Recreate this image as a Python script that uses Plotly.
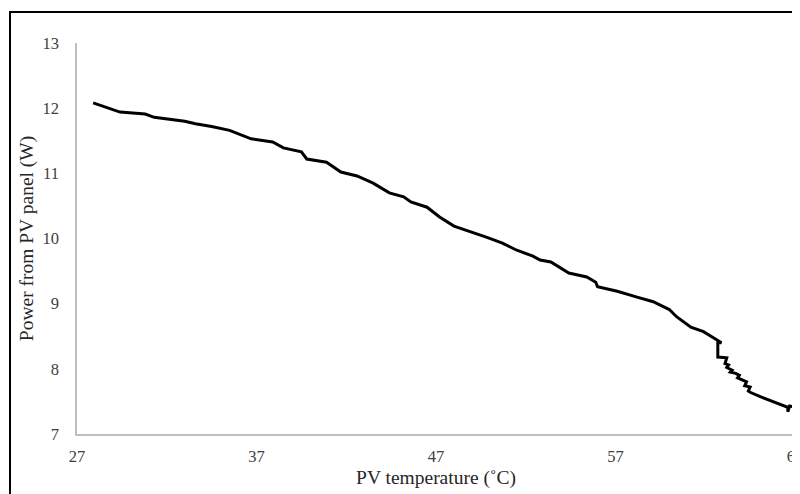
import plotly.graph_objects as go

temperature = [27.9, 28.8, 29.4, 30.8, 31.3, 33.0, 33.6, 34.5, 35.5, 36.7, 37.9, 38.5, 39.5, 39.8,
               40.9, 41.7, 42.6, 43.5, 44.4, 45.2, 45.6, 46.5, 47.2, 48.0, 48.9, 49.8, 50.7,
               51.5, 52.4, 52.8, 53.4, 54.4, 55.4, 55.9, 56.0, 57.1, 58.2, 59.1, 60.0, 60.4,
               61.2, 61.9, 62.5, 62.9, 62.7, 62.7, 63.2, 63.1, 63.3, 63.2, 63.5, 63.4, 63.7,
               63.9, 63.8, 64.1, 64.3, 64.2, 64.5, 64.4, 64.5, 65.1, 65.8, 66.6, 66.6, 66.7, 66.9]
power = [12.08, 12.00, 11.94, 11.91, 11.86, 11.80, 11.76, 11.72, 11.66, 11.53, 11.48, 11.39, 11.33, 11.22,
         11.17, 11.02, 10.96, 10.85, 10.70, 10.64, 10.56, 10.48, 10.33, 10.19, 10.11, 10.02, 9.93,
         9.82, 9.73, 9.67, 9.64, 9.47, 9.41, 9.33, 9.26, 9.19, 9.10, 9.03, 8.91, 8.80,
         8.64, 8.57, 8.47, 8.40, 8.40, 8.18, 8.17, 8.08, 8.06, 8.02, 7.98, 7.95, 7.93,
         7.90, 7.86, 7.83, 7.80, 7.74, 7.72, 7.66, 7.64, 7.57, 7.49, 7.41, 7.34, 7.43, 7.42]

x_ticks = [27, 37, 47, 57, 67]
y_ticks = [7, 8, 9, 10, 11, 12, 13]

fig = go.Figure()
fig.add_trace(go.Scatter(x=temperature, y=power, mode="lines",
                         line=dict(color="black", width=3), showlegend=False))

tick_font = dict(size=16.5, family="Liberation Serif", color="#404040")
title_font = dict(size=19.5, family="Liberation Serif", color="#262626")
fig.update_layout(
    width=792, height=486,
    margin=dict(l=69, r=5, t=35, b=60),
    paper_bgcolor="white", plot_bgcolor="white",
    font=dict(family="Liberation Serif", size=16, color="#404040"),
    xaxis=dict(range=[27, 67], tickvals=x_ticks, showgrid=False, zeroline=False,
               showline=True, linecolor="#bfbfbf", linewidth=1.5, ticks="",
               automargin=False, ticklabelstandoff=6, ticklabeloverflow="allow", tickfont=tick_font,
               title=dict(text="PV temperature (˚C)", font=title_font, standoff=6)),
    yaxis=dict(range=[7, 13], tickvals=y_ticks, showgrid=False, zeroline=False,
               showline=True, linecolor="#bfbfbf", linewidth=1.5, ticks="",
               automargin=False, ticklabelstandoff=13, tickfont=tick_font,
               title=dict(text="Power from PV panel (W)", font=title_font, standoff=4)),
    shapes=[dict(type="rect", xref="paper", yref="paper",
                 x0=(2 - 69) / 718, x1=(798 - 69) / 718,
                 y0=(426 - 492) / 391, y1=1 + (35 - 4) / 391,
                 line=dict(color="black", width=2), layer="above")],
)

fig.write_html("out.html")
